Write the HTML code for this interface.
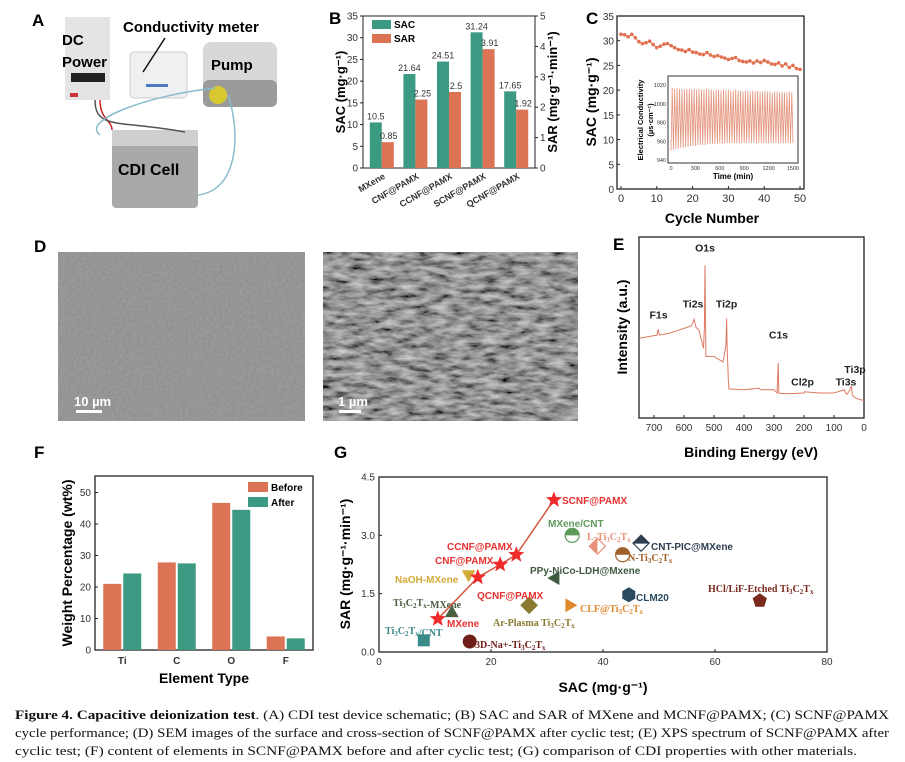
<!DOCTYPE html>
<html><head><meta charset="utf-8"><style>
body{margin:0;background:#fff}
svg{display:block;font-family:"Liberation Sans",sans-serif}
.b{font-weight:bold}
.sf{font-family:"Liberation Serif",serif;font-weight:bold}
</style></head><body>
<svg id="fig" width="905" height="762" viewBox="0 0 905 762">
<defs>
<filter id="tex1" x="0" y="0" width="1" height="1"><feTurbulence type="fractalNoise" baseFrequency="0.35" numOctaves="2" seed="3"/><feColorMatrix type="matrix" values="0 0 0 0 0.55 0 0 0 0 0.55 0 0 0 0 0.55 0.35 0 0 0 0"/></filter>
<filter id="tex2" x="0" y="0" width="1" height="1"><feTurbulence type="fractalNoise" baseFrequency="0.06 0.18" numOctaves="3" seed="7"/><feColorMatrix type="matrix" values="1.1 0 0 0 -0.2 1.1 0 0 0 -0.2 1.1 0 0 0 -0.2 0 0 0 0 1"/></filter>
</defs>
<rect width="905" height="762" fill="#fff"/>

<!-- Panel A -->
<g>
<text x="32" y="26" font-size="17" class="b">A</text>
<rect x="65" y="17" width="45" height="83" fill="#e4e4e4"/>
<rect x="71" y="73" width="34" height="9" fill="#222"/>
<rect x="70" y="93" width="8" height="4" fill="#c33"/>
<rect x="130" y="52" width="57" height="46" rx="4" fill="#eef0f2" stroke="#ccc"/>
<rect x="146" y="84" width="22" height="3" fill="#4a7ac0"/>
<line x1="143" y1="72" x2="165" y2="38" stroke="#111" stroke-width="1.5"/>
<rect x="203" y="42" width="74" height="65" rx="8" fill="#d8d8d8"/>
<rect x="203" y="80" width="74" height="27" rx="6" fill="#9a9a9a"/>
<circle cx="218" cy="95" r="9" fill="#d8c830"/>
<rect x="112" y="130" width="86" height="78" rx="4" fill="#a9a9a9"/>
<rect x="112" y="130" width="86" height="16" fill="#cfcfcf"/>
<path d="M100 100 C100 120 112 120 112 130" stroke="#c22" fill="none" stroke-width="1.5"/>
<path d="M95 100 C95 130 120 120 185 132" stroke="#555" fill="none" stroke-width="1.5"/>
<path d="M100 135 C80 120 150 95 215 88" stroke="#8bc" fill="none" stroke-width="1.5"/>
<path d="M228 95 C240 130 240 190 198 195" stroke="#8bc" fill="none" stroke-width="1.5"/>
<text x="62" y="45" font-size="15" class="b">DC</text>
<text x="62" y="67" font-size="15" class="b">Power</text>
<text x="123" y="32" font-size="15" class="b">Conductivity meter</text>
<text x="211" y="70" font-size="15" class="b">Pump</text>
<text x="118" y="175" font-size="16" class="b">CDI Cell</text>
</g>

<!-- Panel D -->
<g>
<text x="34" y="252" font-size="17" class="b">D</text>
<rect x="58" y="252" width="247" height="169" fill="#8c8c8c"/>
<rect x="58" y="252" width="247" height="169" filter="url(#tex1)"/>
<rect x="323" y="252" width="255" height="169" fill="#555"/>
<rect x="323" y="252" width="255" height="169" filter="url(#tex2)" opacity="0.85"/>
<text x="74" y="406" font-size="13" fill="#fff" class="b">10 µm</text>
<rect x="76" y="410" width="26" height="3" fill="#fff"/>
<text x="338" y="406" font-size="13" fill="#fff" class="b">1 µm</text>
<rect x="339" y="410" width="22" height="3" fill="#fff"/>
</g>

<!-- caption -->
<g font-family="Liberation Serif, serif" font-size="12.6" fill="#111">
<text x="15" y="719" textLength="874" lengthAdjust="spacingAndGlyphs"><tspan font-weight="bold">Figure 4. Capacitive deionization test</tspan>. (A) CDI test device schematic; (B) SAC and SAR of MXene and MCNF@PAMX; (C) SCNF@PAMX</text>
<text x="15" y="737" textLength="874" lengthAdjust="spacingAndGlyphs">cycle performance; (D) SEM images of the surface and cross-section of SCNF@PAMX after cyclic test; (E) XPS spectrum of SCNF@PAMX after</text>
<text x="15" y="755" textLength="842" lengthAdjust="spacingAndGlyphs">cyclic test; (F) content of elements in SCNF@PAMX before and after cyclic test; (G) comparison of CDI properties with other materials.</text>
</g>

<g id="B"></g>
<g id="C"></g>
<g id="E"></g>
<g id="F"></g>
<g id="G"></g>
</svg>
<script>
// ---- Panel B data
const bCats = ["MXene","CNF@PAMX","CCNF@PAMX","SCNF@PAMX","QCNF@PAMX"];
const bSAC = [10.5,21.64,24.51,31.24,17.65];
const bSAR = [0.85,2.25,2.5,3.91,1.92];
const bLeftTicks = [0,5,10,15,20,25,30,35];
const bRightTicks = [0,1,2,3,4,5];
// ---- Panel C data
const cCycleSAC = [31.3,31.2,30.8,31.3,30.6,29.8,29.4,29.6,29.9,29.2,28.6,28.9,29.3,29.4,29.0,28.6,28.2,28.1,27.8,28.2,27.7,27.6,27.3,27.2,27.6,27.1,26.8,27.0,26.7,26.5,26.2,26.4,26.6,26.0,25.8,25.7,25.9,25.5,25.9,25.6,26.0,25.7,25.3,25.2,25.5,24.9,25.3,24.6,25.0,24.4,24.2];
const cXTicks = [0,10,20,30,40,50];
const cYTicks = [0,5,10,15,20,25,30,35];
const insetPeaks = [1017,1016,1017,1016,1016,1015,1016,1016,1015,1016,1015,1016,1015,1015,1016,1015,1015,1014,1015,1015,1014,1015,1014,1015,1014,1014,1015,1014,1014,1013,1014,1014,1013,1014,1013,1014,1013,1013,1014,1013,1013,1012,1013,1013,1012,1013,1012,1012,1013,1012];
const insetTroughs = [950,951,952,952,953,953,954,954,955,955,955,956,956,956,956,957,957,957,957,957,958,957,958,958,958,958,958,958,958,958,958,958,958,958,958,958,958,958,958,958,958,958,958,958,958,958,958,958,958,958];
const insetXTicks = [0,300,600,900,1200,1500];
const insetYTicks = [940,960,980,1000,1020];
// ---- Panel E data
const eBE = [750,700,690,686,682,650,600,575,566,560,550,535,532,530,528,527,500,470,463,460,458,456,452,450,400,350,345,300,290,286,284,280,250,200,198,150,100,65,60,55,42,39,36,25,10,0];
const eInt = [44,45.5,45.7,49,45.8,46.8,49.5,51,54.5,50,48.6,38.5,50,84.4,50,34,34,31,37,41,55,38,20,16,15.6,16.5,15.6,15.6,13.8,30.3,13.8,13.6,13.4,13.8,14.5,13.8,13.8,15.6,13.5,13.2,17.5,13,12,10.8,10,9.7];
const eXTicks = [700,600,500,400,300,200,100,0];
const ePeakNames = ["F1s","Ti2s","O1s","Ti2p","C1s","Cl2p","Ti3s","Ti3p"];
const ePeakBE = [685,570,530,458,285,205,60,30];
const ePeakInt = [55,61,92,61,44,18,18,25];
// ---- Panel F data
const fCats = ["Ti","C","O","F"];
const fBefore = [21,27.8,46.7,4.3];
const fAfter = [24.3,27.5,44.5,3.7];
const fTicks = [0,10,20,30,40,50];
// ---- Panel G data
const gNames = ["MXene","QCNF@PAMX","CNF@PAMX","CCNF@PAMX","SCNF@PAMX"];
const gSAC = [10.5,17.65,21.64,24.51,31.24];
const gSAR = [0.85,1.92,2.25,2.5,3.91];
const oNames = ["MXene/CNT","L-Ti3C2Tx","CNT-PIC@MXene","N-Ti3C2Tx","PPy-NiCo-LDH@Mxene","NaOH-MXene","Ti3C2Tx-MXene","Ti3C2Tx/CNT","3D-Na+-Ti3C2Tx","Ar-Plasma Ti3C2Tx","CLF@Ti3C2Tx","CLM20","HCl/LiF-Etched Ti3C2Tx"];
const oSAC = [34.5,39,46.8,43.5,31.5,16,13,8,16.2,26.8,34,44.6,68];
const oSAR = [3.0,2.72,2.8,2.5,1.9,2.0,1.0,0.3,0.27,1.2,1.2,1.47,1.32];
const gXTicks = [0,20,40,60,80];
const gYTicks = [0,1.5,3.0,4.5];

const NS="http://www.w3.org/2000/svg";
function mk(parent,tag,attrs,text){const e=document.createElementNS(NS,tag);for(const k in attrs)e.setAttribute(k,attrs[k]);if(text!==undefined)e.textContent=text;parent.appendChild(e);return e;}
const TEAL="#3d9a82",ORG="#dd7355";

// ================= Panel B
(function(){
const g=document.getElementById('B');
const L=363,R=535,T=16,Bt=168;
const yL=v=>Bt-v/35*(Bt-T), yR=v=>Bt-v/5*(Bt-T);
const bx=i=>L+2+(i+0.5)*(R-L-4)/bCats.length;
mk(g,'text',{x:329,y:24,'font-size':17,class:'b'},'B');
mk(g,'rect',{x:L,y:T,width:R-L,height:Bt-T,fill:'none',stroke:'#222','stroke-width':1});
bLeftTicks.forEach(v=>{mk(g,'line',{x1:L-3,x2:L,y1:yL(v),y2:yL(v),stroke:'#222'});mk(g,'text',{x:L-5,y:yL(v)+3.5,'font-size':10,'text-anchor':'end',fill:'#333'},v);});
bRightTicks.forEach(v=>{mk(g,'line',{x1:R,x2:R+3,y1:yR(v),y2:yR(v),stroke:'#222'});mk(g,'text',{x:R+5,y:yR(v)+3.5,'font-size':10,fill:'#333'},v);});
bCats.forEach((c,i)=>{
 const cx=bx(i);
 const r1=mk(g,'rect',{x:cx-12,y:yL(bSAC[i]),width:12,height:Bt-yL(bSAC[i]),fill:TEAL});
 
 
 const r2=mk(g,'rect',{x:cx,y:yR(bSAR[i]),width:12,height:Bt-yR(bSAR[i]),fill:ORG});
 
 
 mk(g,'text',{x:cx-6,y:yL(bSAC[i])-3,'font-size':9,'text-anchor':'middle',fill:'#333'},bSAC[i]);
 mk(g,'text',{x:cx+7,y:yR(bSAR[i])-3,'font-size':9,'text-anchor':'middle',fill:'#333'},bSAR[i]);
 mk(g,'text',{x:cx+4,y:Bt+10,'font-size':9,class:'b','text-anchor':'end',transform:`rotate(-30 ${cx+4} ${Bt+10})`,fill:'#333'},c);
});
mk(g,'rect',{x:372,y:20,width:19,height:9,fill:TEAL});
mk(g,'text',{x:394,y:28,'font-size':10,class:'b'},'SAC');
mk(g,'rect',{x:372,y:34,width:19,height:9,fill:ORG});
mk(g,'text',{x:394,y:42,'font-size':10,class:'b'},'SAR');
mk(g,'text',{x:345,y:92,'font-size':13,class:'b','text-anchor':'middle',transform:'rotate(-90 345 92)'},'SAC (mg·g⁻¹)');
mk(g,'text',{x:557,y:92,'font-size':13,class:'b','text-anchor':'middle',transform:'rotate(-90 557 92)'},'SAR (mg·g⁻¹·min⁻¹)');
})();

// ================= Panel C
(function(){
const g=document.getElementById('C');
const L=617,R=804,T=16,Bt=189;
const cx=v=>621+v*(179/50), cy=v=>Bt-v/35*(Bt-T);
mk(g,'text',{x:586,y:24,'font-size':17,class:'b'},'C');
mk(g,'rect',{x:L,y:T,width:R-L,height:Bt-T,fill:'none',stroke:'#222','stroke-width':1.3});
cYTicks.forEach(v=>{mk(g,'line',{x1:L,x2:L+3,y1:cy(v),y2:cy(v),stroke:'#222'});mk(g,'text',{x:L-3,y:cy(v)+4,'font-size':10,'text-anchor':'end',fill:'#333'},v);});
cXTicks.forEach(v=>{mk(g,'line',{x1:cx(v),x2:cx(v),y1:Bt,y2:Bt-3,stroke:'#222'});mk(g,'text',{x:cx(v),y:Bt+13,'font-size':11,'text-anchor':'middle',fill:'#333'},v);});
const pts=cCycleSAC.map((v,i)=>cx(i)+','+cy(v)).join(' ');
const ln=mk(g,'polyline',{points:pts,fill:'none',stroke:'#e08060','stroke-width':1});


cCycleSAC.forEach((v,i)=>{const p=mk(g,'circle',{cx:cx(i),cy:cy(v),r:1.8,fill:'#e07050'});
 
 });
mk(g,'text',{x:712,y:223,'font-size':14,class:'b','text-anchor':'middle'},'Cycle Number');
mk(g,'text',{x:596,y:102,'font-size':14,class:'b','text-anchor':'middle',transform:'rotate(-90 596 102)'},'SAC (mg·g⁻¹)');
// inset
const iL=668,iR=798,iT=76,iB=163;
const ix=t=>671+t/1500*122, iy=v=>160-(v-940)/80*75;
const ins=mk(g,'g',{});


mk(ins,'rect',{x:iL,y:iT,width:iR-iL,height:iB-iT,fill:'#fff',stroke:'#333','stroke-width':1});
let d='';const n=insetPeaks.length;
for(let k=0;k<n;k++){const t0=k*1500/n,t1=(k+0.5)*1500/n;d+=(k?'L':'M')+ix(t0)+' '+iy(insetTroughs[k])+'L'+ix(t1)+' '+iy(insetPeaks[k]);}
d+='L'+ix(1500)+' '+iy(insetTroughs[n-1]);
mk(ins,'path',{d:d,fill:'none',stroke:'#e4957e','stroke-width':0.8});
insetYTicks.forEach(v=>mk(ins,'text',{x:iL-2,y:iy(v)+2,'font-size':5.5,'text-anchor':'end',fill:'#333'},v));
insetXTicks.forEach(v=>mk(ins,'text',{x:ix(v),y:iB+7,'font-size':5.5,'text-anchor':'middle',fill:'#333'},v));
mk(ins,'text',{x:733,y:179,'font-size':8,class:'b','text-anchor':'middle'},'Time (min)');
mk(ins,'text',{x:643,y:120,'font-size':7.5,class:'b','text-anchor':'middle',transform:'rotate(-90 643 120)'},'Electrical Conductivity');
mk(ins,'text',{x:653,y:120,'font-size':7.5,class:'b','text-anchor':'middle',transform:'rotate(-90 653 120)'},'(µs·cm⁻¹)');
})();

// ================= Panel E
(function(){
const g=document.getElementById('E');
const L=639,R=864,T=237,Bt=418;
const ex=b=>L+(750-b)/750*(R-L), ey=v=>Bt-v/100*(Bt-T);
mk(g,'text',{x:613,y:250,'font-size':17,class:'b'},'E');
mk(g,'rect',{x:L,y:T,width:R-L,height:Bt-T,fill:'none',stroke:'#222','stroke-width':1.3});
eXTicks.forEach(v=>{mk(g,'line',{x1:ex(v),x2:ex(v),y1:Bt,y2:Bt-3,stroke:'#222'});mk(g,'text',{x:ex(v),y:Bt+13,'font-size':10,'text-anchor':'middle',fill:'#333'},v);});
const sp=mk(g,'polyline',{points:eBE.map((b,i)=>ex(b)+','+ey(eInt[i])).join(' '),fill:'none',stroke:'#dd7a62','stroke-width':1});


ePeakNames.forEach((nm,i)=>mk(g,'text',{x:ex(ePeakBE[i]),y:ey(ePeakInt[i]),'font-size':10.5,class:'b','text-anchor':'middle',fill:'#222'},nm));
mk(g,'text',{x:751,y:457,'font-size':14,class:'b','text-anchor':'middle'},'Binding Energy (eV)');
mk(g,'text',{x:627,y:327,'font-size':14,class:'b','text-anchor':'middle',transform:'rotate(-90 627 327)'},'Intensity (a.u.)');
})();

// ================= Panel F
(function(){
const g=document.getElementById('F');
const L=95,R=313,T=476,Bt=650;
const fy=v=>Bt-v*3.15, fc=i=>L+(i+0.5)*(R-L)/fCats.length;
mk(g,'text',{x:34,y:458,'font-size':17,class:'b'},'F');
mk(g,'rect',{x:L,y:T,width:R-L,height:Bt-T,fill:'none',stroke:'#222','stroke-width':1.3});
fTicks.forEach(v=>{mk(g,'line',{x1:L,x2:L+3,y1:fy(v),y2:fy(v),stroke:'#222'});mk(g,'text',{x:L-4,y:fy(v)+3.5,'font-size':10,'text-anchor':'end',fill:'#333'},v);});
fCats.forEach((c,i)=>{const c0=fc(i);
 const a=mk(g,'rect',{x:c0-19,y:fy(fBefore[i]),width:18,height:Bt-fy(fBefore[i]),fill:ORG});
 
 
 const b=mk(g,'rect',{x:c0+1,y:fy(fAfter[i]),width:18,height:Bt-fy(fAfter[i]),fill:TEAL});
 
 
 mk(g,'text',{x:c0,y:Bt+14,'font-size':10,class:'b','text-anchor':'middle',fill:'#333'},c);});
mk(g,'rect',{x:248,y:482,width:20,height:10,fill:ORG});
mk(g,'text',{x:271,y:491,'font-size':10,class:'b'},'Before');
mk(g,'rect',{x:248,y:497,width:20,height:10,fill:TEAL});
mk(g,'text',{x:271,y:506,'font-size':10,class:'b'},'After');
mk(g,'text',{x:204,y:683,'font-size':14,class:'b','text-anchor':'middle'},'Element Type');
mk(g,'text',{x:72,y:563,'font-size':14,class:'b','text-anchor':'middle',transform:'rotate(-90 72 563)'},'Weight Percentage (wt%)');
})();

// ================= Panel G
(function(){
const g=document.getElementById('G');
const L=379,R=827,T=477,Bt=652;
const gx=v=>L+v/80*(R-L), gy=v=>Bt-v/4.5*(Bt-T);
mk(g,'text',{x:334,y:458,'font-size':17,class:'b'},'G');
mk(g,'rect',{x:L,y:T,width:R-L,height:Bt-T,fill:'none',stroke:'#222','stroke-width':1.3});
gYTicks.forEach(v=>{mk(g,'line',{x1:L,x2:L+3,y1:gy(v),y2:gy(v),stroke:'#222'});mk(g,'text',{x:L-4,y:gy(v)+3.5,'font-size':10,'text-anchor':'end',fill:'#333'},v.toFixed(1));});
gXTicks.forEach(v=>{mk(g,'line',{x1:gx(v),x2:gx(v),y1:Bt,y2:Bt-3,stroke:'#222'});mk(g,'text',{x:gx(v),y:Bt+13,'font-size':10,'text-anchor':'middle',fill:'#333'},v);});
mk(g,'text',{x:603,y:692,'font-size':14,class:'b','text-anchor':'middle'},'SAC (mg·g⁻¹)');
mk(g,'text',{x:350,y:564,'font-size':14,class:'b','text-anchor':'middle',transform:'rotate(-90 350 564)'},'SAR (mg·g⁻¹·min⁻¹)');
// other materials
const oCol=["#5e9a5a","#e8907a","#2e3e50","#a0602a","#3f5a3f","#d4aa38","#4a5e40","#3a8a8a","#6e1e18","#8a7a30","#e08a30","#2a4a60","#7a2a1e"];
const oShape=["halfc","diam","diam","halfc","tril","trid","triu","sq","circ","diam","trir","hex","pent"];
const oLab=[[548,527,0],[587,540,1],[651,550,0],[628,561,1],[530,574,0],[395,583,0],[393,606,1],[385,634,1],[475,648,1],[493,626,1],[580,612,1],[636,601,0],[708,592,1]];
function poly(n,r,cx,cy,rot){let p=[];for(let k=0;k<n;k++){const a=rot+k*2*Math.PI/n;p.push((cx+r*Math.cos(a)).toFixed(1)+','+(cy+r*Math.sin(a)).toFixed(1));}return p.join(' ');}
oNames.forEach((nm,i)=>{
 const x=gx(oSAC[i]),y=gy(oSAR[i]),c=oCol[i],s=oShape[i];let m;
 if(s==='halfc'){m=mk(g,'g',{});mk(m,'circle',{cx:x,cy:y,r:7,fill:'#fff',stroke:c,'stroke-width':1.2});mk(m,'path',{d:`M${x-7} ${y}A7 7 0 0 1 ${x+7} ${y}Z`,fill:c});}
 else if(s==='diam'){m=mk(g,'g',{});mk(m,'polygon',{points:poly(4,8,x,y,0),fill:i===1?'#fff':c,stroke:c,'stroke-width':1.2});if(i===1)mk(m,'polygon',{points:`${x-8},${y} ${x},${y-8} ${x},${y+8}`,fill:c});if(i===2)mk(m,'polygon',{points:`${x-8},${y} ${x+8},${y} ${x},${y+8}`,fill:'#fff',stroke:c});}
 else if(s==='circ')m=mk(g,'circle',{cx:x,cy:y,r:7,fill:c});
 else if(s==='sq')m=mk(g,'rect',{x:x-6,y:y-6,width:12,height:12,fill:c});
 else if(s==='hex')m=mk(g,'polygon',{points:poly(6,7.5,x,y,Math.PI/6),fill:c});
 else if(s==='pent')m=mk(g,'polygon',{points:poly(5,7.5,x,y,-Math.PI/2),fill:c});
 else if(s==='triu')m=mk(g,'polygon',{points:poly(3,8,x,y,-Math.PI/2),fill:c});
 else if(s==='trid')m=mk(g,'polygon',{points:poly(3,8,x,y,Math.PI/2),fill:c});
 else if(s==='tril')m=mk(g,'polygon',{points:poly(3,8,x,y,Math.PI),fill:c});
 else m=mk(g,'polygon',{points:poly(3,8,x,y,0),fill:c});
 
 
 const lb=oLab[i];
 const t=mk(g,'text',{x:lb[0],y:lb[1],'font-size':10,fill:c,class:lb[2]?'sf':'b'});
 const parts=nm.split(/(Ti3C2Tx)/);
 parts.forEach(p=>{if(p==='Ti3C2Tx'){mk(t,'tspan',{},'Ti');mk(t,'tspan',{'font-size':7,dy:2},'3');mk(t,'tspan',{dy:-2},'C');mk(t,'tspan',{'font-size':7,dy:2},'2');mk(t,'tspan',{dy:-2},'T');mk(t,'tspan',{'font-size':7,dy:2},'x');mk(t,'tspan',{dy:-2},'');}else mk(t,'tspan',{},p);});
});
// this work
const gl=mk(g,'polyline',{points:gSAC.map((v,i)=>gx(v)+','+gy(gSAR[i])).join(' '),fill:'none',stroke:'#d05a40','stroke-width':1.5});


const gLab=[[447,627],[477,599],[435,564],[447,550],[562,504]];
gNames.forEach((nm,i)=>{
 const st=mk(g,'polygon',{fill:'#ee2a2a',points:(()=>{let p=[];for(let k=0;k<10;k++){const r=k%2?3.6:8.5,a=-Math.PI/2+k*Math.PI/5;p.push((gx(gSAC[i])+r*Math.cos(a)).toFixed(1)+','+(gy(gSAR[i])+r*Math.sin(a)).toFixed(1));}return p.join(' ');})()});
 
 
 mk(g,'text',{x:gLab[i][0],y:gLab[i][1],'font-size':10,class:'b',fill:'#e83030'},nm);
});
})();
</script>
</body></html>
